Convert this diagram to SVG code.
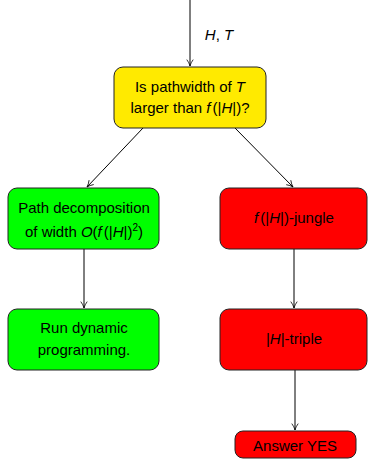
<svg xmlns="http://www.w3.org/2000/svg" width="368" height="460" viewBox="0 0 368 460">
<style>
.box{stroke:#222;stroke-width:1}
.y{fill:#ffea00}
.g{fill:#00ff00}
.r{fill:#ff0000}
text{font-family:"Liberation Sans","DejaVu Sans",sans-serif;font-size:15px;fill:#000;text-anchor:middle}
.i{font-style:italic}
.c{fill:none;stroke:#000;stroke-width:1}
</style>
<defs>
<marker id="a" viewBox="0 0 10 10" refX="9" refY="5" markerWidth="8" markerHeight="8" orient="auto" markerUnits="userSpaceOnUse">
<path d="M1,1 Q5,4 9,5 Q5,6 1,9" fill="none" stroke="#000" stroke-width="1"/>
</marker>
</defs>
<g id="connectors">
<line class="c" x1="190" y1="0" x2="190" y2="66" marker-end="url(#a)"/>
<line class="c" x1="143" y1="128" x2="87" y2="187" marker-end="url(#a)"/>
<line class="c" x1="235" y1="128" x2="293" y2="187" marker-end="url(#a)"/>
<line class="c" x1="84" y1="249" x2="84" y2="308" marker-end="url(#a)"/>
<line class="c" x1="294" y1="249" x2="294" y2="308" marker-end="url(#a)"/>
<line class="c" x1="295" y1="370" x2="295" y2="430" marker-end="url(#a)"/>
<text x="219" y="40"><tspan class="i">H</tspan>, <tspan class="i">T</tspan></text>
</g>
<g id="q">
<rect class="box y" x="114" y="67" width="152" height="61" rx="9"/>
<text x="190" y="92">Is pathwidth of <tspan class="i">T</tspan></text>
<text x="190" y="113">larger than <tspan class="i">f</tspan><tspan dx="2">(</tspan>|<tspan class="i">H</tspan>|)?</text>
</g>
<g id="pd">
<rect class="box g" x="8" y="188" width="151" height="61" rx="9"/>
<text x="84" y="213">Path decomposition</text>
<text x="84" y="237">of width <tspan class="i">O</tspan>(<tspan class="i">f</tspan><tspan dx="2">(</tspan>|<tspan class="i">H</tspan>|)<tspan dy="-6" font-size="10">2</tspan><tspan dy="6">)</tspan></text>
</g>
<g id="jungle">
<rect class="box r" x="220" y="188" width="147" height="61" rx="9"/>
<text x="294" y="223"><tspan class="i">f</tspan><tspan dx="2">(</tspan>|<tspan class="i">H</tspan>|)-jungle</text>
</g>
<g id="dp">
<rect class="box g" x="8" y="309" width="151" height="61" rx="9"/>
<text x="84" y="333">Run dynamic</text>
<text x="84" y="355">programming.</text>
</g>
<g id="triple">
<rect class="box r" x="220" y="309" width="147" height="61" rx="9"/>
<text x="294" y="344">|<tspan class="i">H</tspan>|-triple</text>
</g>
<g id="yes">
<rect class="box r" x="235" y="431" width="121" height="27" rx="8"/>
<text x="295" y="451">Answer YES</text>
</g>
</svg>
